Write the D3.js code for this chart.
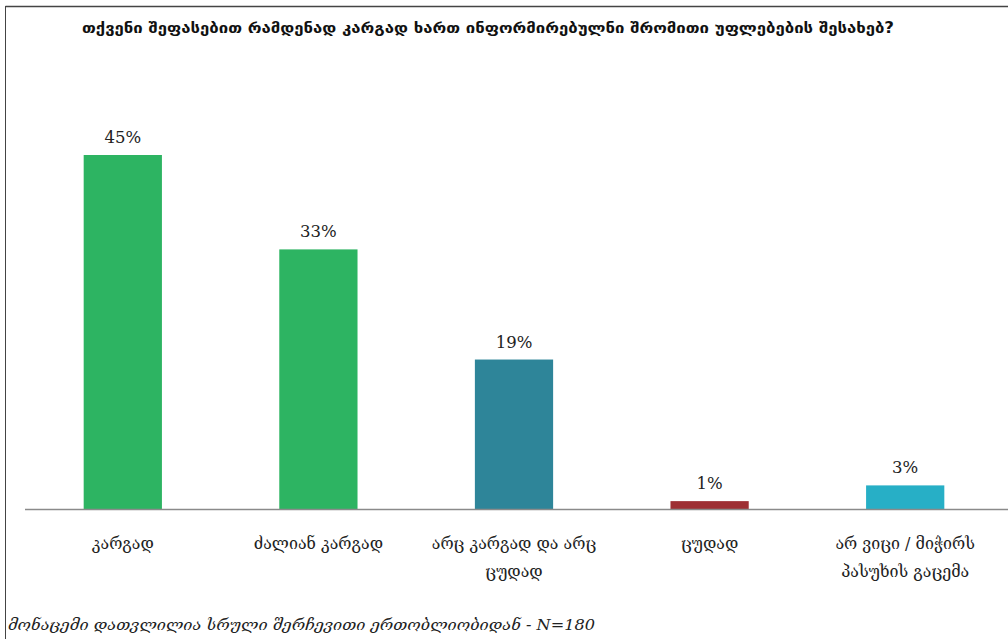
<!DOCTYPE html>
<html><head><meta charset="utf-8">
<script src="https://cdn.jsdelivr.net/npm/d3@7/dist/d3.min.js"></script>
<style>
html,body{margin:0;padding:0;background:#fff;}
svg{display:block;}
</style></head>
<body>
<svg id="chart" width="1008" height="639"></svg>
<script>
const title = "თქვენი შეფასებით რამდენად კარგად ხართ ინფორმირებულნი შრომითი უფლებების შესახებ?";
const categories = ["კარგად", "ძალიან კარგად", "არც კარგად და არც ცუდად", "ცუდად", "არ ვიცი / მიჭირს პასუხის გაცემა"];
const labelLines = [["კარგად"], ["ძალიან კარგად"], ["არც კარგად და არც", "ცუდად"], ["ცუდად"], ["არ ვიცი / მიჭირს", "პასუხის გაცემა"]];
const values = [45, 33, 19, 1, 3];
const colors = ["#2db462", "#2db462", "#2e8599", "#9e2f33", "#27afc6"];
const footnote = "მონაცემი დათვლილია სრული შერჩევითი ერთობლიობიდან -  N=180";

const svg = d3.select("#chart");
const baseY = 509;

// frame
svg.append("line").attr("x1",5.5).attr("x2",1008).attr("y1",6.5).attr("y2",6.5).attr("stroke","#444").attr("stroke-width",1.5);
svg.append("line").attr("x1",5.5).attr("x2",5.5).attr("y1",6).attr("y2",639).attr("stroke","#444").attr("stroke-width",1);

const x = d3.scaleBand().domain(categories).range([25, 1003]).paddingInner(0.6).paddingOuter(0.3);
const y = d3.scaleLinear().domain([0, 45]).range([baseY, 155]);

svg.append("text").attr("x", 488).attr("y", 33).attr("text-anchor","middle")
  .attr("font-family","'DejaVu Sans Condensed','DejaVu Sans',sans-serif").attr("font-weight","bold")
  .attr("font-size",15).attr("fill","#111").attr("textLength",812).attr("lengthAdjust","spacingAndGlyphs").text(title);

svg.selectAll("rect.bar").data(values).join("rect").attr("class","bar")
  .attr("x",(d,i)=>x(categories[i])).attr("width",x.bandwidth())
  .attr("y",d=>y(d)).attr("height",d=>baseY-y(d)).attr("fill",(d,i)=>colors[i]);

svg.selectAll("text.val").data(values).join("text").attr("class","val")
  .attr("x",(d,i)=>x(categories[i])+x.bandwidth()/2).attr("y",d=>y(d)-12)
  .attr("text-anchor","middle").attr("font-family","'DejaVu Serif','Liberation Serif',serif")
  .attr("font-size",16.5).attr("fill","#222").text(d=>d+"%");

const axis = svg.append("g").attr("transform",`translate(0,${baseY})`)
  .call(d3.axisBottom(x).tickSize(0).tickFormat(""));
axis.select(".domain").attr("stroke","#8a8a8a").attr("stroke-width",1.5).attr("d","M25,0.5H1008");

const lab = svg.selectAll("text.cat").data(categories).join("text").attr("class","cat")
  .attr("text-anchor","middle").attr("font-family","'DejaVu Serif','DejaVu Sans',serif")
  .attr("font-size",16).attr("fill","#222");
lab.each(function(d,i){
  const cx = x(d)+x.bandwidth()/2;
  d3.select(this).selectAll("tspan").data(labelLines[i]).join("tspan")
    .attr("x",cx).attr("y",(t,j)=>549+j*28).text(t=>t);
});

svg.append("text").attr("x",8).attr("y",630).attr("font-family","'DejaVu Serif','DejaVu Sans',serif")
  .attr("font-style","italic").attr("font-size",15).attr("fill","#222")
  .attr("textLength",587).attr("lengthAdjust","spacingAndGlyphs").text(footnote);
</script>
</body></html>
